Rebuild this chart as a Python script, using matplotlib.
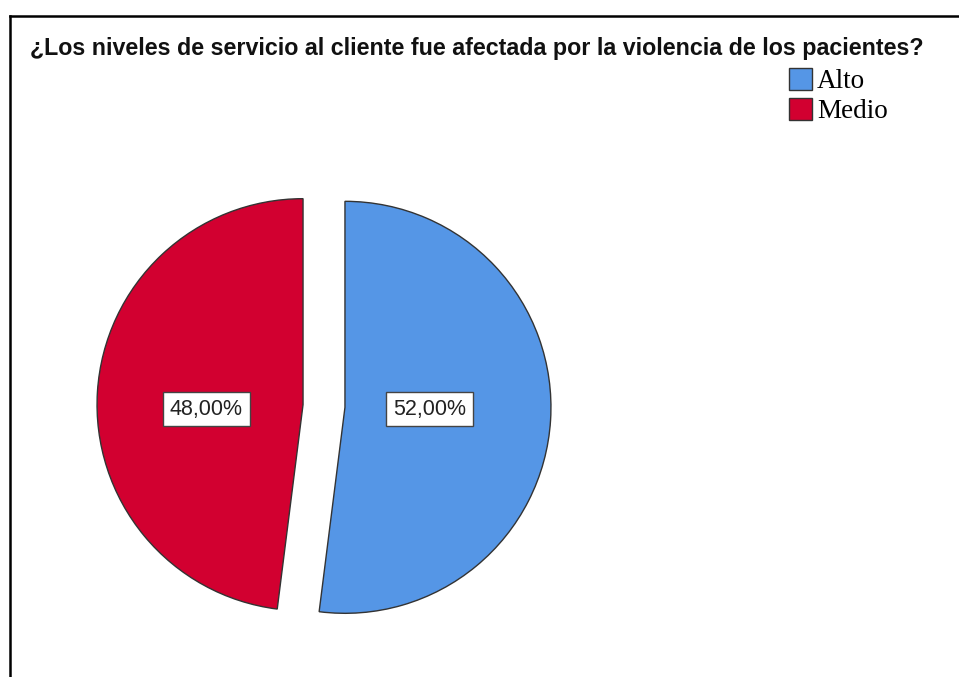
import math
import matplotlib
matplotlib.use('Agg')
import matplotlib.pyplot as plt
from matplotlib.lines import Line2D
from matplotlib.patches import Patch

# Chart data
categories = ['Alto', 'Medio']
percentages = [52.0, 48.0]
colors = ['#5596E6', '#D20030']
title = '¿Los niveles de servicio al cliente fue afectada por la violencia de los pacientes?'

W, H = 959, 677
R = 206
CX, CY = 324, H - 406
fig = plt.figure(figsize=(W / 100, H / 100), dpi=100)
ax = fig.add_axes([0, 0, 1, 1])

# pie in pixel units; explode is an absolute offset here, in pixels
wedges, texts, autotexts = ax.pie(
    percentages, colors=colors, startangle=90, counterclock=False,
    center=(CX, CY), radius=R, explode=[21, 21],
    autopct=lambda p: f'{p:.2f}%'.replace('.', ','), pctdistance=0.45,
    wedgeprops={'edgecolor': '#333333', 'linewidth': 1.0},
    textprops={'fontsize': 15.5, 'family': 'Liberation Sans', 'color': '#222222'},
    frame=True)
ax.set_xlim(0, W)
ax.set_ylim(0, H)
ax.set_aspect('equal')
ax.axis('off')

# labels sit level with the pie centre, inside each wedge
label_dist = [0.41, 0.47]
for w, t, d in zip(wedges, autotexts, label_dist):
    mid = math.radians((w.theta1 + w.theta2) / 2)
    t.set_position((w.center[0] + d * R * math.cos(mid), CY - 3))
    t.set_bbox(dict(boxstyle='square,pad=0.32', facecolor='white', edgecolor='#444444', linewidth=1))

# title
fig.text(30 / W, 1 - 48 / H, title, fontsize=16.75, fontweight='bold',
         family='Liberation Sans', va='center', ha='left', color='#111111')

# frame lines (top and left only)
fig.add_artist(Line2D([9.5 / W, 1], [1 - 15.5 / H, 1 - 15.5 / H], color='black', lw=1.8,
                      transform=fig.transFigure))
fig.add_artist(Line2D([9.5 / W, 9.5 / W], [0, 1 - 15.5 / H], color='black', lw=1.8,
                      transform=fig.transFigure))

# legend
handles = [Patch(facecolor=c, edgecolor='#333333', linewidth=1) for c in colors]
fig.legend(handles, categories, loc='upper left', bbox_to_anchor=(789 / W, 1 - 68 / H),
           frameon=False, borderpad=0, borderaxespad=0, handlelength=0.85, handleheight=0.85,
           handletextpad=0.18, labelspacing=0.15,
           prop={'family': 'Liberation Serif', 'size': 19.5})

plt.savefig('out.png', dpi=100)
